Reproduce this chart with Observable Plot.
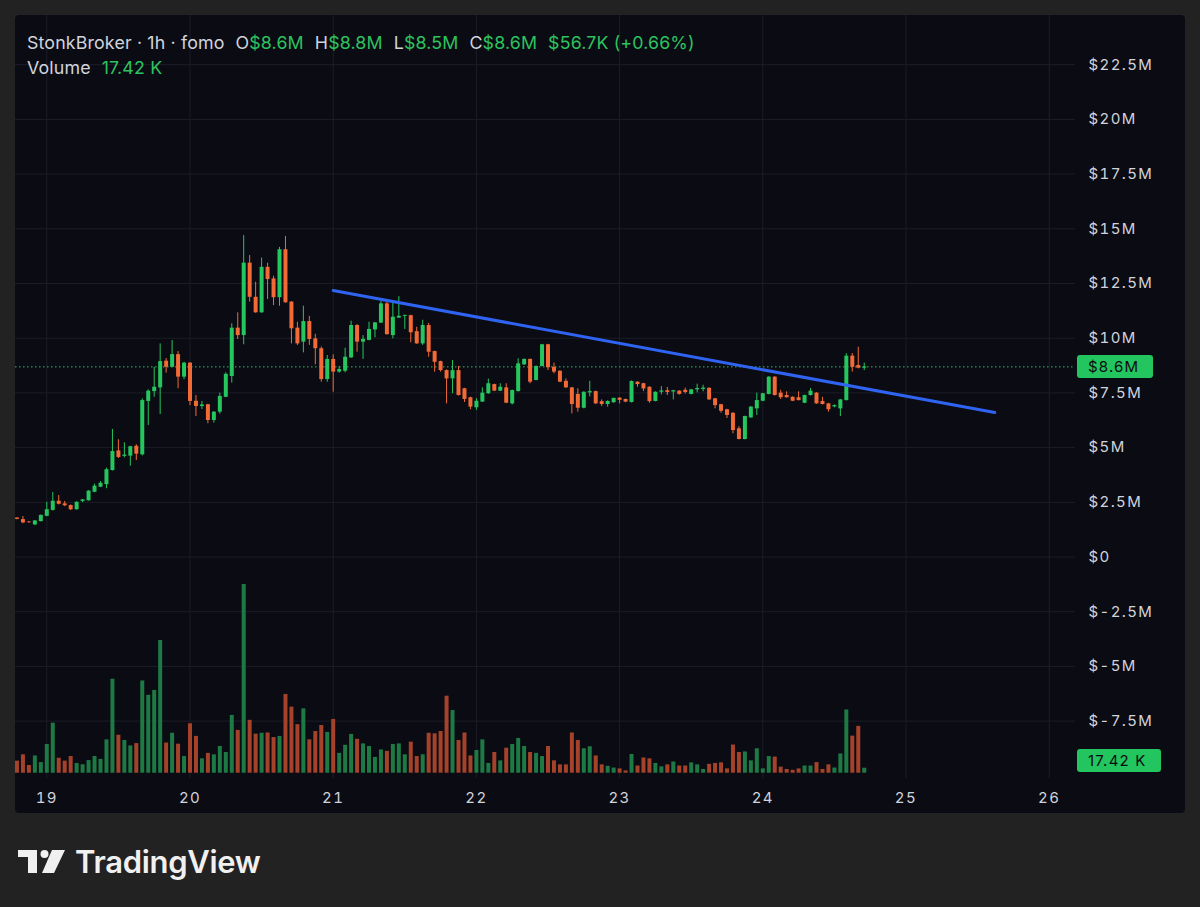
<!DOCTYPE html>
<html><head><meta charset="utf-8">
<script src="https://cdn.jsdelivr.net/npm/d3@7"></script>
<script src="https://cdn.jsdelivr.net/npm/@observablehq/plot@0.6"></script>
<style>
html,body{margin:0;padding:0;background:#222222;width:1200px;height:907px;overflow:hidden;font-family:Inter,"Noto Sans",sans-serif;}
#panel{position:absolute;left:15px;top:15px;width:1170px;height:798px;background:#0b0b13;border-radius:4px;overflow:hidden;}
.layer{position:absolute;left:0;top:0;}
#header{position:absolute;left:12px;top:17px;font-size:17.8px;line-height:21px;color:#d1d4dc;white-space:nowrap;letter-spacing:0.15px;}
#header .g{color:#2cc35f;}
#header .sp{margin-left:11px;}
.pricebox{position:absolute;left:1062px;height:23px;line-height:23px;background:#22c55e;color:#0b0b13;font-size:15px;letter-spacing:1.2px;padding-left:11px;border-radius:3px;box-sizing:border-box;}
#logo{position:absolute;left:18px;top:843px;display:flex;align-items:center;}
#logo span{font-size:31px;font-weight:600;color:#f0f0f0;margin-left:9px;letter-spacing:-0.3px;}
svg text{letter-spacing:1.4px;}
</style></head>
<body>
<div id="panel">
  <div id="l1" class="layer"></div>
  <div id="l2" class="layer"></div>
  <div id="l3" class="layer"></div>
  <div id="header">
    <div>StonkBroker · 1h · fomo<span class="sp">O</span><span class="g">$8.6M</span><span class="sp">H</span><span class="g">$8.8M</span><span class="sp">L</span><span class="g">$8.5M</span><span class="sp">C</span><span class="g">$8.6M</span><span class="sp g">$56.7K (+0.66%)</span></div>
    <div style="margin-top:4px">Volume<span class="sp g">17.42 K</span></div>
  </div>
  <div id="pricebox" class="pricebox" style="width:76px"></div>
  <div id="volbox" class="pricebox" style="width:84px"></div>
</div>
<div id="logo">
  <svg width="48" height="24" viewBox="0 0 48 24">
    <path d="M0 0H19V23H10V7H0Z" fill="#f0f0f0"/>
    <circle cx="26.5" cy="4" r="4" fill="#f0f0f0"/>
    <path d="M34 0H47L36 23H24Z" fill="#f0f0f0"/>
  </svg>
  <span>TradingView</span>
</div>
<script>
// ---- data (hourly candles, first bar = day 18, 19:00) ----
const firstBarDay = 18;
const firstBarHour = 19;
const open = [1.78,1.71,1.60,1.47,1.62,1.86,2.13,2.55,2.43,2.35,2.16,2.54,2.57,2.96,3.19,3.31,3.95,4.85,4.60,4.61,5.06,4.67,7.11,7.56,7.73,8.95,8.67,9.25,8.22,8.86,7.12,6.88,6.96,6.24,6.62,7.30,8.25,10.46,10.12,13.43,11.87,11.16,13.24,12.71,11.85,14.04,11.65,10.46,9.82,10.76,9.97,9.52,8.11,9.03,8.45,8.49,9.10,10.58,9.82,9.90,10.38,10.69,11.57,10.12,10.92,11.00,11.03,10.30,9.74,10.58,9.39,8.93,8.52,8.14,8.52,7.69,7.28,6.82,7.08,7.46,7.88,7.58,7.73,7.00,7.56,8.78,9.03,8.07,8.71,9.70,8.67,8.49,8.03,7.73,7.43,6.80,7.50,7.56,7.10,6.97,7.05,7.26,7.20,7.06,7.99,7.92,7.76,7.11,7.53,7.60,7.54,7.58,7.62,7.43,7.64,7.66,7.71,7.23,6.96,6.73,6.57,5.86,5.37,6.36,6.77,7.12,7.43,8.22,7.49,7.38,7.30,7.28,7.03,7.38,7.49,7.11,7.00,6.86,6.77,7.15,9.18,8.75,8.63];
const high = [1.80,1.85,1.62,1.66,1.92,2.50,2.95,2.81,2.54,2.38,2.52,2.62,3.03,3.33,3.45,4.06,5.83,5.36,5.22,5.06,5.13,7.23,7.64,8.67,9.74,9.07,9.89,9.39,8.90,8.88,7.38,7.11,6.98,6.64,7.49,8.42,10.66,11.16,14.69,13.78,12.56,13.66,13.43,12.83,14.15,14.65,11.67,10.73,11.46,11.00,10.18,9.60,9.21,9.24,8.70,9.54,10.78,10.62,10.12,10.73,10.72,11.68,11.65,11.68,11.90,11.06,11.05,10.50,10.82,10.68,9.41,8.95,8.55,8.98,8.71,7.71,7.30,7.24,7.73,8.13,7.90,7.92,7.92,7.63,9.06,9.05,9.05,8.73,9.72,9.72,8.86,8.51,8.14,7.75,7.69,7.55,8.03,7.58,7.18,7.14,7.26,7.28,7.22,8.05,8.01,7.94,7.78,7.55,7.79,7.75,7.62,7.60,7.72,7.66,7.90,7.85,7.73,7.25,6.98,6.75,6.59,5.96,6.44,6.88,7.49,7.48,8.24,8.24,7.62,7.55,7.32,7.55,7.40,7.70,7.51,7.30,7.02,6.95,7.20,9.29,9.30,9.59,8.86];
const low = [1.70,1.52,1.54,1.43,1.60,1.84,2.10,2.38,2.30,2.12,2.14,2.48,2.55,2.94,3.17,3.12,3.93,4.50,4.53,4.15,4.41,4.62,6.01,7.30,6.51,8.40,8.65,7.69,8.10,6.92,6.42,6.74,6.09,6.12,6.53,7.28,7.95,9.94,9.70,11.65,11.14,11.14,11.77,11.49,11.46,11.60,9.74,9.67,9.33,9.67,8.78,7.99,7.99,7.53,8.40,8.42,9.08,9.36,9.03,9.88,10.02,10.67,10.14,9.97,10.90,10.40,9.79,9.72,9.67,9.13,8.45,8.45,7.00,7.46,7.36,7.06,6.73,6.70,7.06,7.44,7.56,7.56,7.01,6.95,7.54,8.76,7.92,8.05,8.69,8.52,8.37,7.97,7.71,6.54,6.62,6.77,7.32,6.97,6.88,6.85,7.03,7.00,7.05,7.04,7.76,7.56,7.03,7.09,7.41,7.38,7.18,7.40,7.45,7.41,7.50,7.55,7.16,6.77,6.57,6.33,5.63,5.35,5.35,6.34,6.47,7.10,7.41,7.36,7.20,7.26,7.10,7.13,7.01,7.36,6.98,6.95,6.62,6.82,6.42,7.13,8.45,8.60,8.52];
const close = [1.72,1.56,1.57,1.65,1.90,2.16,2.55,2.41,2.34,2.16,2.50,2.61,3.01,3.24,3.37,3.99,4.82,4.55,4.66,5.04,4.70,7.15,7.58,7.76,8.93,8.67,9.25,8.22,8.86,7.11,6.88,6.95,6.24,6.62,7.34,8.35,10.46,10.12,13.43,11.87,11.16,13.24,12.68,11.85,14.04,11.62,10.43,9.74,10.76,9.94,9.52,8.11,9.03,8.45,8.57,9.13,10.58,9.82,9.95,10.40,10.70,11.57,10.16,10.96,11.00,11.04,10.25,9.74,10.58,9.36,8.90,8.52,8.14,8.52,7.38,7.20,6.85,7.12,7.49,7.92,7.58,7.76,7.03,7.61,8.83,9.03,7.99,8.71,9.70,8.65,8.45,7.99,7.73,6.97,6.80,7.53,7.56,7.00,6.97,7.11,7.25,7.16,7.08,8.02,7.88,7.68,7.10,7.53,7.59,7.52,7.60,7.43,7.52,7.64,7.70,7.72,7.18,6.92,6.66,6.47,5.78,5.37,6.42,6.85,7.15,7.46,8.22,7.38,7.28,7.28,7.12,7.15,7.38,7.58,7.00,6.97,6.73,6.92,7.18,9.18,8.67,8.63,8.69];
// volume in thousands
const volume = [42,64,27,60,37,100,174,52,42,58,34,29,44,58,48,116,327,132,114,95,103,321,271,288,462,105,139,101,58,172,128,50,69,64,93,72,201,149,657,184,136,139,140,124,128,274,230,169,224,116,145,166,142,187,69,97,135,118,102,93,55,81,76,100,102,64,108,58,64,139,137,145,268,218,114,140,60,79,116,34,72,43,87,100,121,93,72,69,58,93,43,29,29,140,114,85,92,60,29,24,18,15,8,65,25,53,50,34,22,29,39,25,25,36,29,13,31,34,36,15,98,72,74,43,85,15,58,56,21,13,10,15,25,25,37,13,29,18,67,220,129,163,17.42];
// trend line drawing (day, price $M)
const trendDays = [21.0, 25.62];
const trendPrices = [12.18, 6.60];
// axis ticks
const dayTicks = [19, 20, 21, 22, 23, 24, 25, 26];
const priceTicks = [-7.5, -5, -2.5, 0, 2.5, 5, 7.5, 10, 12.5, 15, 17.5, 20, 22.5];

// ---- build table ----
const candles = open.map((o, i) => ({
  t: firstBarDay + (firstBarHour + i) / 24,
  open: o, high: high[i], low: low[i], close: close[i], volume: volume[i],
  up: close[i] >= o
}));
const trend = trendDays.map((d, i) => ({t: d, v: trendPrices[i]}));
const last = candles[candles.length - 1];

const GREEN = "#26c65f", ORANGE = "#f26a36";
const VGREEN = "#1d7a45", VORANGE = "#a5432a";
const GRID = "#1c1d28";
const xDomain = [18.7814, 26.1837];
const yDomain = [-10.123, 24.749];
const common = {
  width: 1170, height: 798,
  marginLeft: 0, marginRight: 110, marginTop: 0, marginBottom: 35,
  style: {background: "transparent", color: "#d1d4dc", fontFamily: "Inter, 'Noto Sans', sans-serif", fontSize: "15px", overflow: "visible"},
  color: {type: "identity"}
};
const fmtPrice = v => v === 0 ? "$0" : `$${v}M`;

// layer 1: grid + axes
const p1 = Plot.plot({
  ...common,
  x: {domain: xDomain},
  y: {domain: yDomain},
  marks: [
    Plot.gridY(priceTicks, {stroke: GRID, strokeOpacity: 1}),
    Plot.gridX(dayTicks, {stroke: GRID, strokeOpacity: 1}),
    Plot.axisY(priceTicks, {anchor: "right", tickSize: 0, tickPadding: 13, tickFormat: fmtPrice, fill: "#d1d4dc", label: null, fontSize: 15}),
    Plot.axisX(dayTicks, {anchor: "bottom", tickSize: 0, tickPadding: 14, tickFormat: d => String(d), fill: "#d1d4dc", label: null, fontSize: 15})
  ]
});
document.getElementById("l1").append(p1);

// layer 2: volume
const volBase = 757.7;
const p2 = Plot.plot({
  ...common,
  x: {domain: xDomain, axis: null},
  y: {domain: [0, 700], range: [volBase, volBase - 700 / 3.48], axis: null},
  marks: [
    Plot.ruleX(candles, {x: "t", y1: 0, y2: "volume", stroke: d => d.up ? VGREEN : VORANGE, strokeWidth: 4})
  ]
});
document.getElementById("l2").append(p2);

// layer 3: candles, last price line, trend line
const p3 = Plot.plot({
  ...common,
  x: {domain: xDomain, axis: null},
  y: {domain: yDomain, axis: null},
  marks: [
    Plot.ruleY([last.close], {stroke: GREEN, strokeDasharray: "1.5,2.5", strokeWidth: 1}),
    Plot.ruleX(candles, {x: "t", y1: "low", y2: "high", stroke: d => d.up ? GREEN : ORANGE, strokeWidth: 1}),
    Plot.ruleX(candles, {x: "t", y1: "open", y2: "close", stroke: d => d.up ? GREEN : ORANGE, strokeWidth: 4}),
    Plot.line(trend, {x: "t", y: "v", stroke: "#2f63f2", strokeWidth: 3})
  ]
});
document.getElementById("l3").append(p3);

// right-side value labels positioned through the scales
const yPrice = p3.scale("y").apply(last.close);
const pb = document.getElementById("pricebox");
pb.textContent = `$${(Math.floor(last.close * 10) / 10).toFixed(1)}M`;
pb.style.top = (yPrice - 11.5) + "px";
const yVol = p2.scale("y").apply(last.volume);
const vb = document.getElementById("volbox");
vb.textContent = `${last.volume.toFixed(2)} K`;
vb.style.top = (yVol - 18.5) + "px";
</script>
</body></html>
